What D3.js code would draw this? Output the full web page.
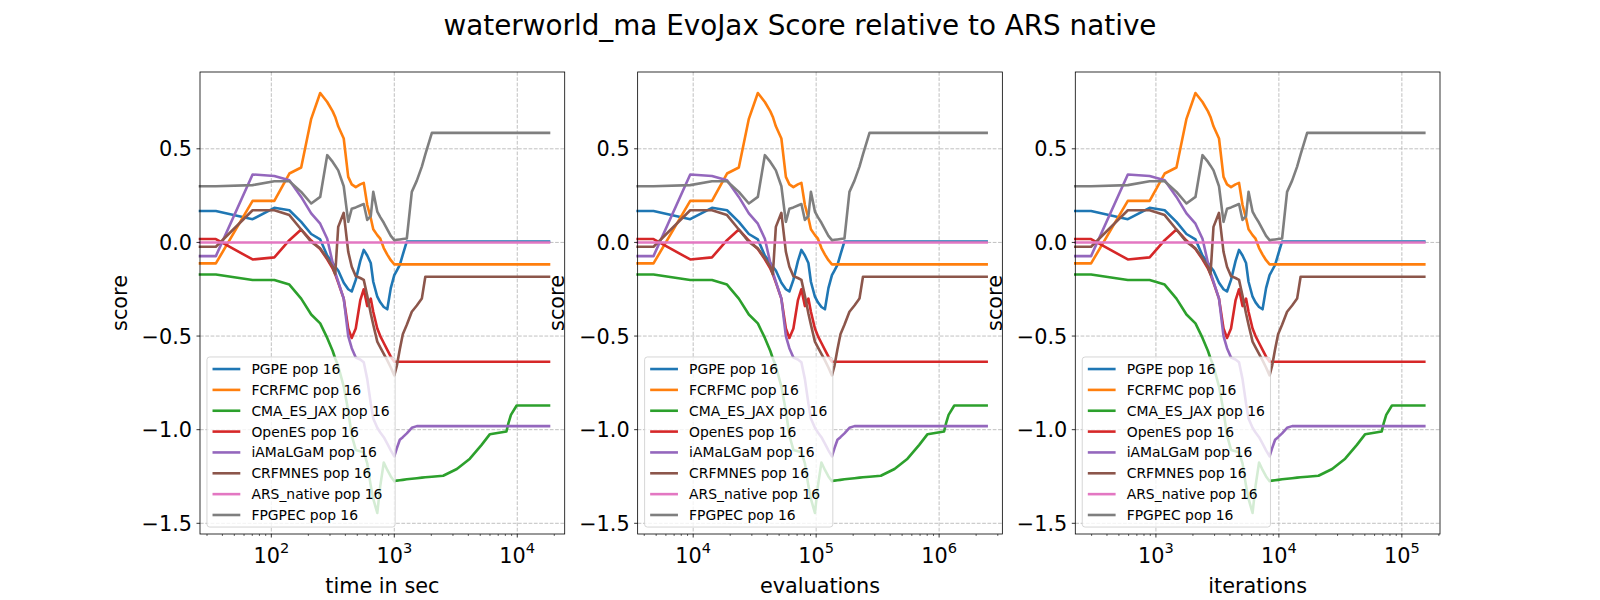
<!DOCTYPE html>
<html><head><meta charset="utf-8">
<script src="https://cdn.jsdelivr.net/npm/d3@7"></script>
<style>body{margin:0;background:#fff;} text{font-family:"DejaVu Sans",sans-serif;fill:#000;}</style>
</head><body><svg id="c" width="1600" height="600"></svg>
<script>
// ---- data ----
const timeSec = [26.3, 35.4, 70.4, 105.8, 140.2, 174.9, 211.0, 249.7, 284.8, 315.6, 330.8, 349.9, 388.0, 422.1, 450.7, 486.0, 528.6, 564.5, 602.7, 643.6, 674.5, 727.2, 769.1, 821.3, 877.0, 936.5, 1000, 1048, 1109, 1173, 1264, 1388, 1525, 1675, 1788, 2021, 2497, 3228, 4119, 5130, 5993, 8166, 8478, 8886, 9888, 18120];
const evaluations = [3535, 4758, 9462, 14220, 18843, 23507, 28358, 33560, 38277, 42417, 44460, 47027, 52147, 56730, 60574, 65318, 71044, 75869, 81003, 86500, 90653, 97736, 103367, 110383, 117869, 125866, 134400, 140851, 149050, 157651, 169882, 186547, 204960, 225120, 240307, 271622, 335597, 433843, 553594, 689472, 805459, 1097510, 1139443, 1194278, 1328947, 2435328];
const iterations = [221, 297, 591, 889, 1178, 1469, 1772, 2097, 2392, 2651, 2779, 2939, 3259, 3546, 3786, 4082, 4440, 4742, 5063, 5406, 5666, 6108, 6460, 6899, 7367, 7867, 8400, 8803, 9316, 9853, 10618, 11659, 12810, 14070, 15019, 16976, 20975, 27115, 34600, 43092, 50341, 68594, 71215, 74642, 83059, 152208];

const seriesNames = ["PGPE pop 16", "FCRFMC pop 16", "CMA_ES_JAX pop 16", "OpenES pop 16", "iAMaLGaM pop 16", "CRFMNES pop 16", "ARS_native pop 16", "FPGPEC pop 16"];

const pgpe = [0.168, 0.168, 0.124, 0.185, 0.172, 0.11, 0.045, 0.016, -0.07, -0.11, -0.13, -0.15, -0.215, -0.25, -0.262, -0.2, -0.1, -0.04, -0.07, -0.11, -0.21, -0.29, -0.32, -0.345, -0.357, -0.244, -0.175, -0.15, -0.12, -0.065, 0.005, 0.005, 0.005, 0.005, 0.005, 0.005, 0.005, 0.005, 0.005, 0.005, 0.005, 0.005, 0.005, 0.005, 0.005, 0.005];
const fcrfmc = [-0.112, -0.112, 0.222, 0.222, 0.368, 0.40, 0.66, 0.798, 0.75, 0.70, 0.67, 0.62, 0.555, 0.35, 0.31, 0.295, 0.31, 0.318, 0.2, 0.13, 0.07, 0.039, 0.02, -0.03, -0.065, -0.095, -0.117, -0.117, -0.117, -0.117, -0.117, -0.117, -0.117, -0.117, -0.117, -0.117, -0.117, -0.117, -0.117, -0.117, -0.117, -0.117, -0.117, -0.117, -0.117, -0.117];
const cmaEsJax = [-0.171, -0.171, -0.201, -0.201, -0.225, -0.30, -0.385, -0.432, -0.51, -0.58, -0.62, -0.66, -0.77, -0.9, -1.03, -1.108, -1.115, -1.12, -1.18, -1.3, -1.37, -1.445, -1.3, -1.175, -1.215, -1.25, -1.275, -1.272, -1.27, -1.268, -1.265, -1.262, -1.259, -1.256, -1.254, -1.251, -1.246, -1.21, -1.155, -1.081, -1.024, -1.01, -0.965, -0.921, -0.871, -0.871];
const openEs = [0.018, 0.018, -0.091, -0.08, 0.012, 0.069, 0.01, -0.035, -0.09, -0.14, -0.17, -0.215, -0.3, -0.46, -0.51, -0.46, -0.31, -0.25, -0.34, -0.30, -0.37, -0.46, -0.50, -0.537, -0.574, -0.61, -0.637, -0.637, -0.637, -0.637, -0.637, -0.637, -0.637, -0.637, -0.637, -0.637, -0.637, -0.637, -0.637, -0.637, -0.637, -0.637, -0.637, -0.637, -0.637, -0.637];
const iamalgam = [-0.073, -0.073, 0.363, 0.355, 0.332, 0.243, 0.155, 0.1, 0.02, -0.11, -0.16, -0.21, -0.3, -0.5, -0.565, -0.615, -0.625, -0.64, -0.73, -0.86, -0.94, -0.99, -1.015, -1.04, -1.075, -1.11, -1.143, -1.1, -1.054, -1.04, -1.02, -0.99, -0.981, -0.981, -0.981, -0.981, -0.981, -0.981, -0.981, -0.981, -0.981, -0.981, -0.981, -0.981, -0.981, -0.981];
const crfmnes = [-0.023, -0.023, 0.172, 0.172, 0.146, 0.069, 0.003, -0.032, -0.085, -0.13, -0.17, 0.083, 0.158, -0.05, -0.13, -0.18, -0.19, -0.2, -0.285, -0.38, -0.44, -0.53, -0.56, -0.595, -0.63, -0.668, -0.71, -0.66, -0.57, -0.49, -0.44, -0.37, -0.337, -0.30, -0.183, -0.183, -0.183, -0.183, -0.183, -0.183, -0.183, -0.183, -0.183, -0.183, -0.183, -0.183];
const arsNative = [0, 0, 0, 0, 0, 0, 0, 0, 0, 0, 0, 0, 0, 0, 0, 0, 0, 0, 0, 0, 0, 0, 0, 0, 0, 0, 0, 0, 0, 0, 0, 0, 0, 0, 0, 0, 0, 0, 0, 0, 0, 0, 0, 0, 0, 0];
const fpgpec = [0.30, 0.30, 0.306, 0.327, 0.327, 0.27, 0.208, 0.243, 0.466, 0.43, 0.41, 0.385, 0.3, 0.11, 0.18, 0.187, 0.197, 0.205, 0.12, 0.14, 0.27, 0.165, 0.135, 0.105, 0.07, 0.035, 0.012, 0.014, 0.016, 0.018, 0.021, 0.27, 0.33, 0.405, 0.47, 0.585, 0.585, 0.585, 0.585, 0.585, 0.585, 0.585, 0.585, 0.585, 0.585, 0.585];

const seriesValues = [pgpe, fcrfmc, cmaEsJax, openEs, iamalgam, crfmnes, arsNative, fpgpec];
const colors = ["#1f77b4", "#ff7f0e", "#2ca02c", "#d62728", "#9467bd", "#8c564b", "#e377c2", "#7f7f7f"];

const yTicks = [-1.5, -1.0, -0.5, 0.0, 0.5];
const xLabels = ["time in sec", "evaluations", "iterations"];
const xSeries = [timeSec, evaluations, iterations];
const xTickExps = [[2, 3, 4], [4, 5, 6], [3, 4, 5]];
const titleText = "waterworld_ma EvoJax Score relative to ARS native";

// ---- layout ----
const W = 1600, H = 600;
const plotTop = 72, plotBottom = 534;
const panelW = 1240 / 3.4, gap = panelW * 0.2;
const LW = 2.6;
const svg = d3.select("#c");

svg.append("text").attr("x", W / 2).attr("y", 35).attr("text-anchor", "middle")
  .style("font-size", "27.8px").text(titleText);

const allY = seriesValues.flat();
const yMin = d3.min(allY), yMax = d3.max(allY), ySpan = yMax - yMin;

xSeries.forEach((xs, p) => {
  const left = 200 + p * (panelW + gap), right = left + panelW;
  const lmin = Math.log10(d3.min(xs)), lmax = Math.log10(d3.max(xs));
  const x = d3.scaleLog().domain([Math.pow(10, lmin), Math.pow(10, lmax + 0.045 * (lmax - lmin))]).range([left, right]);
  const y = d3.scaleLinear().domain([yMin - 0.05 * ySpan, yMax + 0.05 * ySpan]).range([plotBottom, plotTop]);
  const g = svg.append("g");

  const majors = xTickExps[p].map(e => Math.pow(10, e));
  // grid
  g.selectAll(".gx").data(majors).enter().append("line")
    .attr("x1", d => x(d)).attr("x2", d => x(d)).attr("y1", plotTop).attr("y2", plotBottom)
    .attr("stroke", "#b0b0b0").attr("stroke-width", 0.8).attr("stroke-dasharray", "3.7,1.6");
  g.selectAll(".gy").data(yTicks).enter().append("line")
    .attr("x1", left).attr("x2", right).attr("y1", d => y(d)).attr("y2", d => y(d))
    .attr("stroke", "#b0b0b0").attr("stroke-width", 0.8).attr("stroke-dasharray", "3.7,1.6");

  // lines
  const line = d3.line().x((d, i) => x(xs[i])).y(d => y(d));
  seriesValues.forEach((vals, s) => {
    g.append("path").attr("d", line(vals)).attr("fill", "none")
      .attr("stroke", colors[s]).attr("stroke-width", LW)
      .attr("stroke-linejoin", "round").attr("stroke-linecap", "square");
  });

  // spines
  g.append("rect").attr("x", left).attr("y", plotTop).attr("width", panelW).attr("height", plotBottom - plotTop)
    .attr("fill", "none").attr("stroke", "#000").attr("stroke-width", 0.8);

  // x ticks
  const [d0, d1] = x.domain();
  const minors = [];
  for (let e = Math.floor(Math.log10(d0)); e <= Math.ceil(Math.log10(d1)); e++) {
    for (let k = 2; k <= 9; k++) { const v = k * Math.pow(10, e); if (v >= d0 && v <= d1) minors.push(v); }
  }
  g.selectAll(".mt").data(minors).enter().append("line")
    .attr("x1", d => x(d)).attr("x2", d => x(d)).attr("y1", plotBottom).attr("y2", plotBottom + 2)
    .attr("stroke", "#000").attr("stroke-width", 0.6);
  g.selectAll(".Mt").data(majors).enter().append("line")
    .attr("x1", d => x(d)).attr("x2", d => x(d)).attr("y1", plotBottom).attr("y2", plotBottom + 3.5)
    .attr("stroke", "#000").attr("stroke-width", 0.8);
  xTickExps[p].forEach(e => {
    const t = g.append("text").attr("x", x(Math.pow(10, e))).attr("y", plotBottom + 29.3)
      .attr("text-anchor", "middle").style("font-size", "20.8px");
    t.append("tspan").text("10");
    t.append("tspan").attr("dy", -10).style("font-size", "14.6px").text(String(e));
  });
  g.append("text").attr("x", (left + right) / 2).attr("y", 592.7).attr("text-anchor", "middle")
    .style("font-size", "20.8px").text(xLabels[p]);

  // y ticks
  g.selectAll(".yt").data(yTicks).enter().append("line")
    .attr("x1", left - 3.5).attr("x2", left).attr("y1", d => y(d)).attr("y2", d => y(d))
    .attr("stroke", "#000").attr("stroke-width", 0.8);
  g.selectAll(".yl").data(yTicks).enter().append("text")
    .attr("x", left - 8).attr("y", d => y(d) + 7.6).attr("text-anchor", "end")
    .style("font-size", "20.8px").text(d => d3.format(".1f")(d).replace("-", "\u2212"));
  g.append("text").attr("transform", `translate(${left - 73.3},${(plotTop + plotBottom) / 2}) rotate(-90)`)
    .attr("text-anchor", "middle").style("font-size", "20.8px").text("score");

  // legend
  const fs = 13.9, pad = 0.4 * fs, hl = 2 * fs, htp = 0.8 * fs, pitch = 20.85;
  const lg = g.append("g");
  const bx = left + 0.5 * fs, bby = plotBottom - 0.5 * fs;
  const rect = lg.append("rect");
  const texts = seriesNames.map((nm, i) => {
    const cy = bby - pad - 6.5 - (seriesNames.length - 1 - i) * pitch;
    lg.append("line").attr("x1", bx + pad).attr("x2", bx + pad + hl).attr("y1", cy).attr("y2", cy)
      .attr("stroke", colors[i]).attr("stroke-width", LW);
    return lg.append("text").attr("x", bx + pad + hl + htp).attr("y", cy + 5)
      .style("font-size", fs + "px").text(nm);
  });
  const maxW = d3.max(texts, t => t.node().getComputedTextLength());
  const boxTop = bby - pad - 6.5 - (seriesNames.length - 1) * pitch - 6.5 - pad;
  rect.attr("x", bx).attr("y", boxTop).attr("width", pad + hl + htp + maxW + pad)
    .attr("height", bby - boxTop).attr("rx", 2.8)
    .attr("fill", "#fff").attr("fill-opacity", 0.8)
    .attr("stroke", "#cccccc").attr("stroke-opacity", 0.8).attr("stroke-width", 1);
});
</script></body></html>
